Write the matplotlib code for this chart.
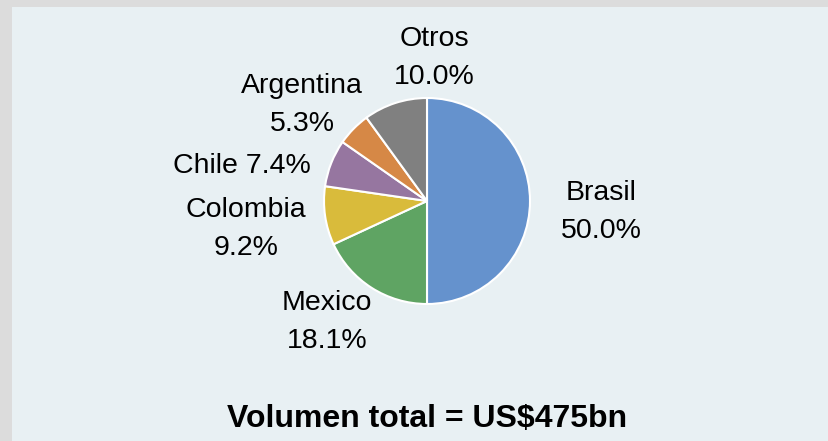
import matplotlib
matplotlib.use("Agg")
import matplotlib.pyplot as plt
from matplotlib.patches import Rectangle

# Data
countries = ["Brasil", "Mexico", "Colombia", "Chile", "Argentina", "Otros"]
shares = [50.0, 18.1, 9.2, 7.4, 5.3, 10.0]
colors = ["#6592CD", "#5FA463", "#D9BB3B", "#9676A0", "#D68846", "#808080"]
title = "Volumen total = US$475bn"

# Label placement (in pie-radius units) and line layout
label_pos = [(1.689, -0.107), (-0.971, -1.175), (-1.757, -0.272),
             (-1.796, 0.340), (-1.214, 0.932), (0.068, 1.388)]
single_line = ["Chile"]

plt.rcParams["font.family"] = ["Liberation Sans", "DejaVu Sans"]

fig = plt.figure(figsize=(8.29, 4.41), dpi=100)
fig.patch.set_facecolor("#DCDCDC")
fig.patches.append(Rectangle((12 / 829, 0), 816 / 829, 434 / 441,
                             transform=fig.transFigure, facecolor="#E8F0F3",
                             edgecolor="none", zorder=-10))

ax = fig.add_axes([0, 0, 1, 1])
ax.set_facecolor("none")

ax.pie(shares, colors=colors, startangle=90, counterclock=False, radius=1,
       wedgeprops=dict(edgecolor="white", linewidth=1.5))

for name, val, (x, y) in zip(countries, shares, label_pos):
    sep = " " if name in single_line else "\n"
    ax.text(x, y, f"{name}{sep}{val:.1f}%", ha="center", va="center",
            fontsize=20.5, color="black", linespacing=1.6)

ax.text(0, -2.115, title, ha="center", va="center", fontsize=23,
        fontweight="bold", color="black")

ax.set_xlim(-427 / 103, 402 / 103)
ax.set_ylim(-240 / 103, 201 / 103)
ax.set_aspect("auto")
ax.axis("off")

fig.savefig("out.png", dpi=100, facecolor=fig.get_facecolor())
